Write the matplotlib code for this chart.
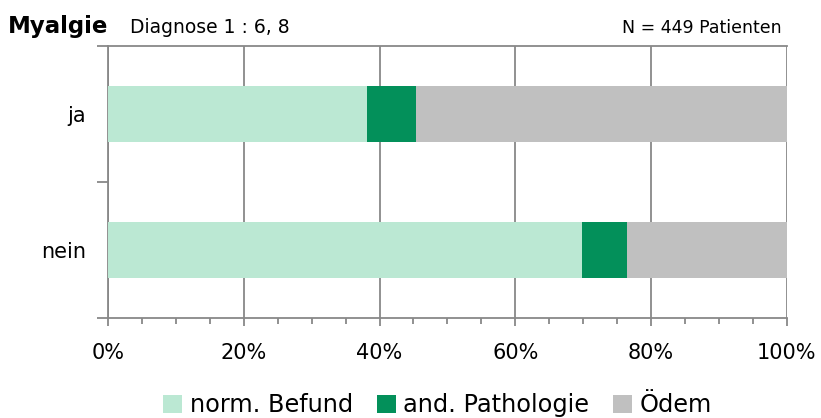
import numpy as np
import matplotlib.pyplot as plt
from matplotlib.ticker import MultipleLocator, PercentFormatter

plt.rcParams['font.family'] = ['DejaVu Sans']

categories = ['nein', 'ja']
series = ['norm. Befund', 'and. Pathologie', 'Ödem']
norm_befund = [69.8, 38.1]
and_pathologie = [6.6, 7.2]
oedem = [23.6, 54.7]
colors = ['#bbe8d3', '#03905a', '#c0c0c0']

fig = plt.figure(figsize=(8.21, 4.18), dpi=100)
ax = fig.add_axes([0.1315, 0.239, 0.827, 0.651])

y = np.arange(len(categories))
left = np.zeros(len(categories))
for vals, name, c in zip([norm_befund, and_pathologie, oedem], series, colors):
    ax.barh(y, vals, left=left, height=0.41, color=c, label=name, zorder=3)
    left += np.array(vals)

ax.set_xlim(0, 100)
ax.set_ylim(-0.5, 1.5)
ax.xaxis.set_major_locator(MultipleLocator(20))
ax.xaxis.set_minor_locator(MultipleLocator(5))
ax.xaxis.set_major_formatter(PercentFormatter(decimals=0))
ax.grid(axis='x', color='#888888', linewidth=1.3, zorder=0)

ax.set_yticks(y)
ax.set_yticklabels(categories)
ax.set_yticks([-0.5, 0.5, 1.5], minor=True)
ax.tick_params(axis='y', which='major', length=0, labelsize=15, pad=16)
ax.tick_params(axis='y', which='minor', length=8, width=1.3, color='#888888')
ax.tick_params(axis='x', which='major', length=6, width=1.3, color='#888888', labelsize=15, pad=12)
ax.tick_params(axis='x', which='minor', length=4, width=1.3, color='#888888')

for s in ['left', 'bottom', 'top']:
    ax.spines[s].set_color('#888888')
    ax.spines[s].set_linewidth(1.3)
ax.spines['right'].set_visible(False)

fig.text(0.01, 0.92, 'Myalgie', fontsize=16.5, fontweight='bold')
fig.text(0.158, 0.92, 'Diagnose 1 : 6, 8', fontsize=13.5)
fig.text(0.952, 0.92, 'N = 449 Patienten', fontsize=12.5, ha='right')

fig.legend(loc='lower center', ncol=3, frameon=False, fontsize=17.3,
           bbox_to_anchor=(0.533, -0.05), handlelength=0.8, handleheight=0.8,
           handletextpad=0.3, columnspacing=1.0)

fig.savefig('out.png', dpi=100)
